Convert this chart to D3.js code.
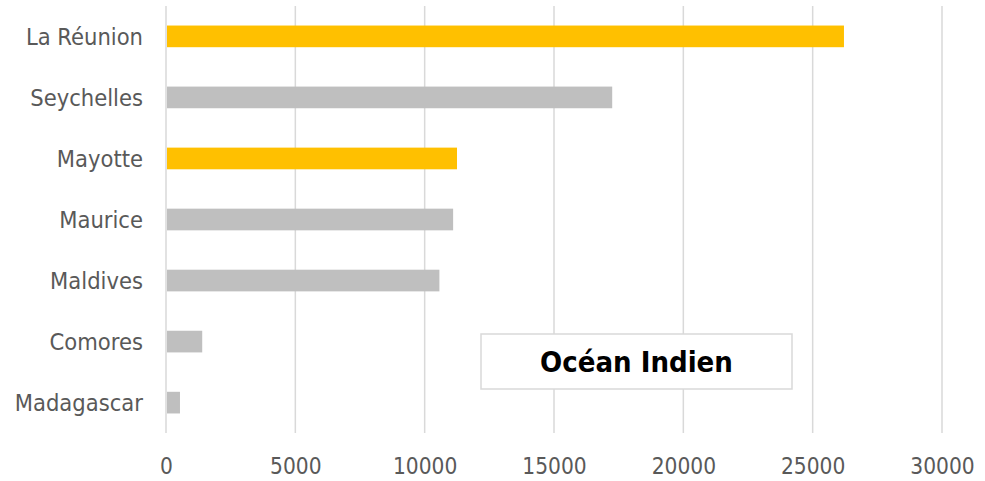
<!DOCTYPE html>
<html><head><meta charset="utf-8">
<script src="https://cdn.jsdelivr.net/npm/d3@7"></script>
<style>
body{margin:0;background:#fff;}
text{font-family:Tahoma,"DejaVu Sans",sans-serif;font-stretch:condensed;}
</style></head>
<body><svg id="chart" width="985" height="481"></svg>
<script>
const categories = ["La Réunion","Seychelles","Mayotte","Maurice","Maldives","Comores","Madagascar"];
const values = [26210, 17250, 11250, 11100, 10570, 1400, 540];
const highlighted = ["La Réunion","Mayotte"];
const xTicks = [0,5000,10000,15000,20000,25000,30000];
const titleText = "Océan Indien";

const svg = d3.select("#chart");
const x = d3.scaleLinear().domain([0,30000]).range([166,942]);
const y = d3.scaleBand().domain(categories).range([6,433]).paddingInner(0.645).paddingOuter(0.32);

// gridlines
svg.append("g").selectAll("line").data(xTicks).join("line")
  .attr("x1",d=>x(d)).attr("x2",d=>x(d)).attr("y1",6).attr("y2",433)
  .attr("stroke","#D9D9D9").attr("stroke-width",1.5);

// bars
svg.append("g").selectAll("rect").data(categories).join("rect")
  .attr("x",x(0)+1).attr("y",d=>y(d))
  .attr("width",(d,i)=>x(values[i])-x(0)-1).attr("height",y.bandwidth())
  .attr("fill",d=>highlighted.includes(d)?"#FFC000":"#BFBFBF");

// x axis labels
const xAxis = d3.axisBottom(x).tickValues(xTicks).tickSize(0).tickPadding(0).tickFormat(d3.format("d"));
const gx = svg.append("g").attr("transform","translate(0,474)").call(xAxis);
gx.select(".domain").remove();
gx.selectAll("text").attr("dy",0).attr("font-size",22.5).attr("fill","#595959").style("font-family",null);

// y axis labels
const yAxis = d3.axisLeft(y).tickSize(0).tickPadding(0);
const gy = svg.append("g").attr("transform","translate(143,0)").call(yAxis);
gy.select(".domain").remove();
gy.selectAll("text").attr("dy","0.36em").attr("font-size",23.5).attr("fill","#595959").style("font-family",null);

// title box
svg.append("rect").attr("x",481).attr("y",334).attr("width",311).attr("height",55)
  .attr("fill","#fff").attr("stroke","#D9D9D9").attr("stroke-width",1.5);
svg.append("text").attr("x",636.5).attr("y",362).attr("dy","0.36em")
  .attr("text-anchor","middle").attr("font-size",29).attr("font-weight","bold")
  .attr("fill","#000").text(titleText);
</script></body></html>
